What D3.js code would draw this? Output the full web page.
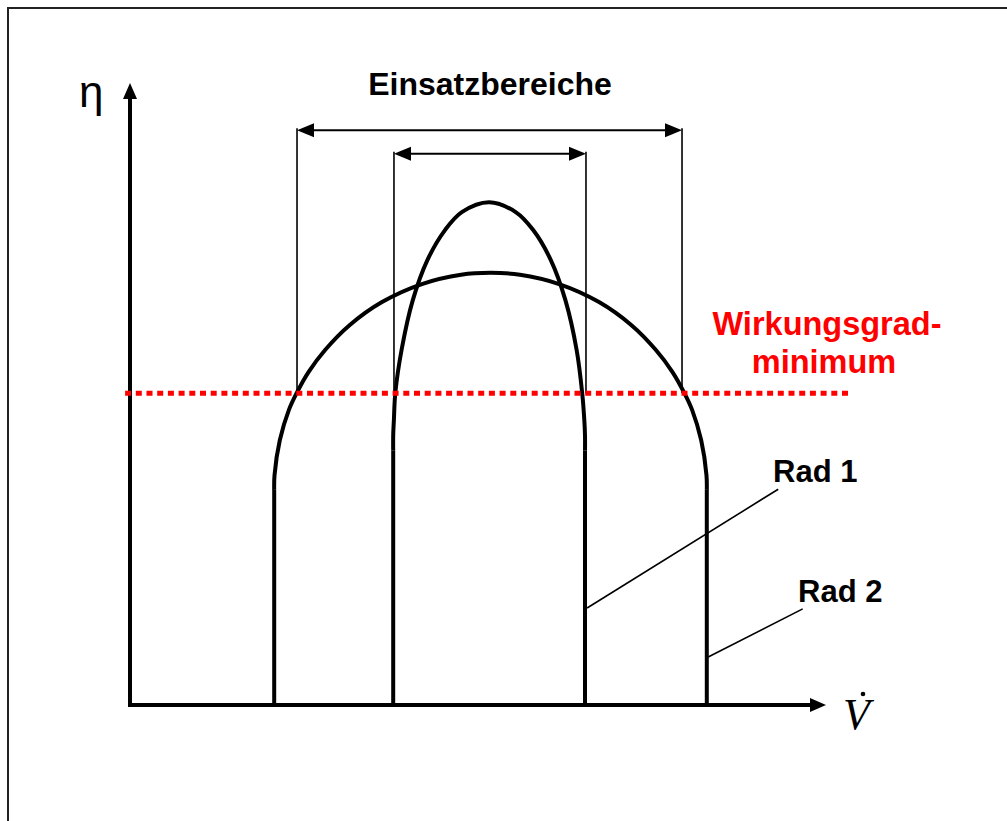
<!DOCTYPE html>
<html>
<head>
<meta charset="utf-8">
<script src="https://cdn.jsdelivr.net/npm/d3@7"></script>
<style>
  html, body { margin: 0; padding: 0; background: #fff; }
  svg { display: block; }
</style>
</head>
<body>
<svg id="chart"></svg>
<script>
// curve points (V in % of axis, eta in % of axis)
// first two and last two points of each curve are the straight flanks
var rad1V   = [37.6, 37.6, 37.6, 37.7, 37.9, 38.8, 40.4, 42.5, 45, 47.4, 51.3, 55.1, 57.6, 60.1, 62.2, 63.8, 64.6, 64.9, 65, 65, 65]
var rad1Eta = [0, 41, 43.5, 46, 50.3, 57.3, 65.3, 71.8, 76.6, 79.5, 81.1, 79.5, 76.6, 71.8, 65.3, 57.3, 50.3, 46, 43.5, 41, 0]

var rad2V   = [20.6, 20.6, 20.65, 21.4, 22.7, 23.8, 25.5, 27.9, 31.4, 36, 41.7, 47.3, 51.5, 55.7, 61.3, 67, 71.6, 75.1, 77.5, 79.2, 80.3, 81.6, 82.35, 82.4, 82.4]
var rad2Eta = [0, 34.7, 37.1, 42.7, 47.6, 50.3, 53.7, 57.3, 61.3, 65, 67.9, 69.4, 69.7, 69.4, 67.9, 65, 61.3, 57.3, 53.7, 50.3, 47.6, 42.7, 37.1, 34.7, 0]

var etaMin = 50.3
var minLineV = [-0.7, 102.6]

// operating ranges: [from, to, arrow height]
var rangeNames = ["Rad 2", "Rad 1"]
var rangeFrom  = [23.86, 37.71]
var rangeTo    = [78.86, 65.14]
var rangeEta   = [92.7, 88.9]

// leader lines for the wheel labels
var labelNames = ["Rad 1", "Rad 2"]
var leaderFrom = [[92.6, 34.8], [96.1, 15.5]]
var leaderTo   = [[65.3, 15.65], [82.6, 7.74]]

var dimensions = {
    width: 1007,
    height: 821
}

var svg = d3.select("#chart")
    .attr("width", dimensions.width)
    .attr("height", dimensions.height)

var xScale = d3.scaleLinear().domain([0, 100]).range([130, 830])
var yScale = d3.scaleLinear().domain([0, 100]).range([705, 85])

// frame (right and bottom edges are cut off in the original)
svg.append("rect")
    .attr("x", 8).attr("y", 8)
    .attr("width", 1200).attr("height", 1000)
    .attr("fill", "none")
    .attr("stroke", "#222")
    .attr("stroke-width", 2)

// axes
var x0 = xScale(0), y0 = yScale(0)
var yTip = 83, xTip = 826
svg.append("line")
    .attr("x1", x0).attr("y1", y0 + 2)
    .attr("x2", x0).attr("y2", yTip + 12)
    .attr("stroke", "#000").attr("stroke-width", 4)
svg.append("path")
    .attr("d", "M" + x0 + "," + yTip + "L" + (x0 - 7) + "," + (yTip + 16) + "L" + (x0 + 7) + "," + (yTip + 16) + "Z")
    .attr("fill", "#000")
svg.append("line")
    .attr("x1", x0 - 2).attr("y1", y0)
    .attr("x2", xTip - 12).attr("y2", y0)
    .attr("stroke", "#000").attr("stroke-width", 4)
svg.append("path")
    .attr("d", "M" + xTip + "," + y0 + "L" + (xTip - 16) + "," + (y0 - 7) + "L" + (xTip - 16) + "," + (y0 + 7) + "Z")
    .attr("fill", "#000")

svg.append("text")
    .attr("x", 79).attr("y", 107)
    .style("font-family", "'Liberation Sans', Arial, sans-serif")
    .style("font-size", "44px")
    .text("η")

svg.append("text")
    .attr("x", 843).attr("y", 729)
    .style("font-family", "'Liberation Serif', 'Times New Roman', serif")
    .style("font-style", "italic")
    .style("font-size", "44px")
    .text("V")
svg.append("circle")
    .attr("cx", 863).attr("cy", 694).attr("r", 2.3)
    .attr("fill", "#000")

// wheel curves: straight flanks, smooth arc on top
var arc = d3.line()
    .x(d => xScale(d[0]))
    .y(d => yScale(d[1]))
    .curve(d3.curveCatmullRom.alpha(0.5))
var flank = d3.line()
    .x(d => xScale(d[0]))
    .y(d => yScale(d[1]))

function drawWheel(vs, etas) {
    var pts = d3.zip(vs, etas)
    var n = pts.length
    var g = svg.append("g")
        .attr("fill", "none").attr("stroke", "#000").attr("stroke-width", 4)
    g.append("path").attr("d", flank(pts.slice(0, 2)))
    g.append("path").attr("d", arc(pts.slice(1, n - 1)))
    g.append("path").attr("d", flank(pts.slice(n - 2)))
}
drawWheel(rad2V, rad2Eta)
drawWheel(rad1V, rad1Eta)

// range brackets
rangeFrom.forEach(function (f, i) {
    var xa = xScale(f), xb = xScale(rangeTo[i]), ya = yScale(rangeEta[i])
    var g = svg.append("g")
    g.append("line").attr("x1", xa).attr("x2", xa).attr("y1", ya - 2).attr("y2", yScale(etaMin))
        .attr("stroke", "#000").attr("stroke-width", 1.6)
    g.append("line").attr("x1", xb).attr("x2", xb).attr("y1", ya - 2).attr("y2", yScale(etaMin))
        .attr("stroke", "#000").attr("stroke-width", 1.6)
    g.append("line").attr("x1", xa + 10).attr("x2", xb - 10).attr("y1", ya).attr("y2", ya)
        .attr("stroke", "#000").attr("stroke-width", 2)
    g.append("path")
        .attr("d", "M" + xa + "," + ya + "L" + (xa + 17) + "," + (ya - 7) + "L" + (xa + 17) + "," + (ya + 7) + "Z")
        .attr("fill", "#000")
    g.append("path")
        .attr("d", "M" + xb + "," + ya + "L" + (xb - 17) + "," + (ya - 7) + "L" + (xb - 17) + "," + (ya + 7) + "Z")
        .attr("fill", "#000")
})

svg.append("text")
    .attr("x", 490).attr("y", 95)
    .attr("text-anchor", "middle")
    .style("font-family", "'Liberation Sans', Arial, sans-serif")
    .style("font-weight", "bold")
    .style("font-size", "32px")
    .text("Einsatzbereiche")

// efficiency minimum
svg.append("line")
    .attr("x1", xScale(minLineV[0])).attr("x2", xScale(minLineV[1]))
    .attr("y1", yScale(etaMin)).attr("y2", yScale(etaMin))
    .attr("stroke", "#ff0000")
    .attr("stroke-width", 5)
    .attr("stroke-dasharray", "6,4.7")

var red = svg.append("text")
    .attr("text-anchor", "middle")
    .style("font-family", "'Liberation Sans', Arial, sans-serif")
    .style("font-weight", "bold")
    .style("font-size", "32.5px")
    .attr("fill", "#ff0000")
red.append("tspan").attr("x", 827).attr("y", 335).text("Wirkungsgrad-")
red.append("tspan").attr("x", 824).attr("y", 373).text("minimum")

// wheel labels
var labelPos = [[773, 482], [798, 602]]
labelNames.forEach(function (name, i) {
    svg.append("line")
        .attr("x1", xScale(leaderFrom[i][0])).attr("y1", yScale(leaderFrom[i][1]))
        .attr("x2", xScale(leaderTo[i][0])).attr("y2", yScale(leaderTo[i][1]))
        .attr("stroke", "#000").attr("stroke-width", 1.6)
    svg.append("text")
        .attr("x", labelPos[i][0]).attr("y", labelPos[i][1])
        .style("font-family", "'Liberation Sans', Arial, sans-serif")
        .style("font-weight", "bold")
        .style("font-size", "31px")
        .text(name)
})
</script>
</body>
</html>
